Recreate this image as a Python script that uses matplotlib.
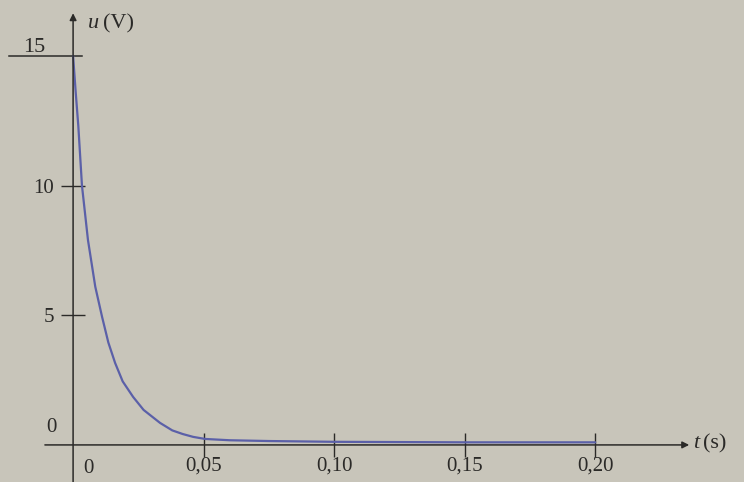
import matplotlib
matplotlib.use("Agg")
import matplotlib.pyplot as plt

# data
t_vals = [0.0, 0.001, 0.002, 0.0034, 0.0057, 0.0085, 0.0111, 0.0135, 0.0161, 0.019,
          0.023, 0.027, 0.0333, 0.038, 0.042, 0.046, 0.0506, 0.06, 0.075, 0.10, 0.15, 0.20]
u_vals = [15.0, 13.6, 12.3, 10.0, 7.9, 6.1, 4.94, 3.95, 3.16, 2.45,
          1.85, 1.35, 0.85, 0.56, 0.42, 0.31, 0.23, 0.18, 0.15, 0.12, 0.10, 0.10]

x_ticks = [0.05, 0.10, 0.15, 0.20]
x_tick_labels = ["0,05", "0,10", "0,15", "0,20"]
y_ticks = [5, 10]
y_tick_labels = ["5", "10"]
y_max_tick = 15
x_axis_label = "t"
x_unit = "(s)"
y_axis_label = "u"
y_unit = "(V)"

plt.rcParams["font.family"] = ["Liberation Serif", "DejaVu Serif"]
plt.rcParams["font.size"] = 15

bg = "#c8c5ba"
ink = "#2b2a28"
curve_col = "#5b60a8"

fig = plt.figure(figsize=(7.44, 4.82), dpi=100, facecolor=bg)
ax = fig.add_axes([0, 0, 1, 1], facecolor=bg)
ax.set_xlim(-0.028, 0.257)
ax.set_ylim(-1.43, 17.16)

for s in ["top", "right", "bottom", "left"]:
    ax.spines[s].set_visible(False)

# axes with arrows
ax.annotate("", xy=(0.236, 0), xytext=(-0.0108, 0),
            arrowprops=dict(arrowstyle="-|>", color=ink, lw=1.1,
                            mutation_scale=10, shrinkA=0, shrinkB=0))
ax.annotate("", xy=(0, 16.65), xytext=(0, -1.43),
            arrowprops=dict(arrowstyle="-|>", color=ink, lw=1.1,
                            mutation_scale=10, shrinkA=0, shrinkB=0))

# ticks (crossing the axes)
ax.spines["bottom"].set_position(("data", 0))
ax.spines["left"].set_position(("data", 0))
ax.set_xticks(x_ticks)
ax.set_xticklabels(x_tick_labels)
ax.set_yticks(y_ticks)
ax.set_yticklabels(y_tick_labels)
ax.tick_params(axis="both", direction="inout", length=17, width=1.0, color=ink,
               labelcolor=ink, labelsize=15)
ax.tick_params(axis="x", pad=0)
ax.tick_params(axis="y", pad=5)

# long line at 15
ax.plot([-0.0245, 0.0035], [y_max_tick, y_max_tick], color=ink, lw=1.1)
ax.text(-0.0148, y_max_tick + 0.15, str(y_max_tick), color=ink, fontsize=16,
        ha="center", va="baseline")

# zero labels
ax.text(-0.0065, 0.3, "0", color=ink, ha="right", va="bottom")
ax.text(0.0038, -0.55, "0", color=ink, ha="left", va="top")

# axis labels
ax.text(0.0055, 16.25, y_axis_label, style="italic", color=ink, fontsize=16,
        ha="left", va="center")
ax.text(0.0115, 16.25, y_unit, color=ink, fontsize=16, ha="left", va="center")
ax.text(0.2375, 0.05, x_axis_label, style="italic", color=ink, fontsize=16,
        ha="left", va="center")
ax.text(0.2413, 0.05, x_unit, color=ink, fontsize=16, ha="left", va="center")

# curve
ax.plot(t_vals, u_vals, color=curve_col, lw=1.6, solid_capstyle="round",
        solid_joinstyle="round")

fig.savefig("out.png", dpi=100, facecolor=bg)
